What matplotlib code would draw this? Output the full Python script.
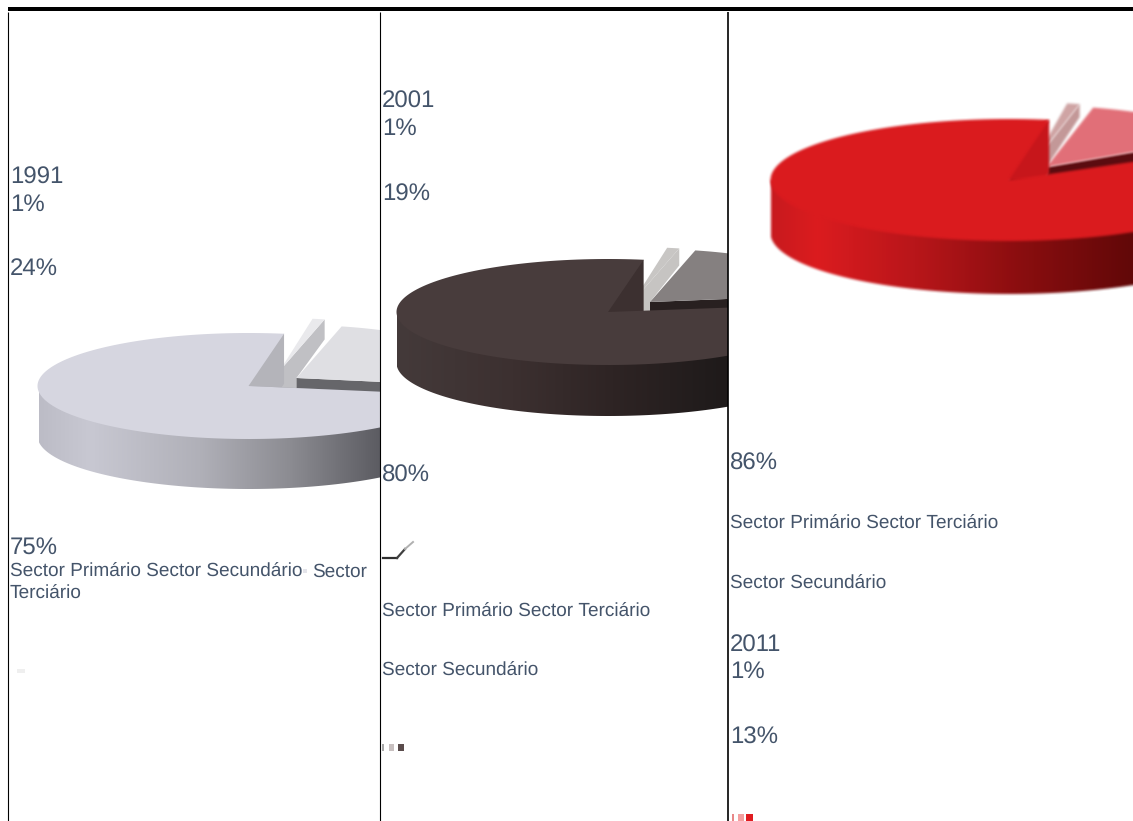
import numpy as np
import matplotlib
matplotlib.use("Agg")
import matplotlib.pyplot as plt
from matplotlib.patches import Polygon, Rectangle

plt.rcParams['font.family'] = ['Liberation Sans', 'DejaVu Sans']
plt.rcParams['text.hinting'] = 'no_hinting'
plt.rcParams['text.hinting_factor'] = 1

# Employment shares per census year: primary, secondary, tertiary
years = ['1991', '2001', '2011']
primario = [1, 1, 1]
secundario = [24, 19, 13]
terciario = [75, 80, 86]

W, H = 1133, 821
TEXT = '#44546a'
START = 9.7      # clockwise from the top of the ellipse, in degrees
PANELS = [(8, 380), (380, 728), (728, W + 20)]

# Projection and colouring of each disc; sx narrows the two lifted sectors
DISCS = [
    dict(c=(248.5, 386), rx=211, ry=53, h=50, off1=(31, -15), off2=(48, -8), thin_h=20, sx=0.93,
         face='#d6d6e0', wall='#b4b4ba', thin_f='#e9e9ec', thin_w='#c0c0c4',
         sec_f='#dfdfe3', sec_w='#66666a',
         rim=[(39, '#bcbcc6'), (90, '#c8c8d2'), (200, '#b0b0b8'), (290, '#8c8c92'), (380, '#5c5c62')]),
    dict(c=(608, 312), rx=211.5, ry=53, h=51, off1=(26, -12), off2=(42, -10), thin_h=17, sx=0.93,
         face='#483c3c', wall='#3c3030', thin_f='#c8c6c4', thin_w='#c6c4c2',
         sec_f='#858080', sec_w='#282020',
         rim=[(397, '#443a3a'), (513, '#3c3030'), (613, '#2e2424'), (728, '#1e1a1a')]),
    dict(c=(1009, 180), rx=238.5, ry=61, h=53, off1=(24, -16.5), off2=(37.5, -13), thin_h=13, sx=0.85,
         face='#da1b1f', wall='#c8161c', thin_f='#cfa4a4', thin_w='#c49898',
         sec_f='#e27078', sec_w='#5c0c10',
         rim=[(771, '#c81a1e'), (817, '#dc1c20'), (917, '#b8161a'), (1017, '#8c0e10'), (W, '#620808')]),
]


def make_soften(reaches_right, pad=6, passes=2, size=3):
    # Alpha-weighted box blur for the last disc. A shape cut by the right side of
    # the canvas continues past it, so that side is padded with its own pixels.
    def soften(image, dpi):
        img = np.pad(image, ((pad, pad), (pad, pad), (0, 0)))
        if reaches_right:
            img[:, -pad:] = img[:, -pad - 1:-pad]
        premult = img.copy()
        premult[..., :3] *= premult[..., 3:]
        k = np.ones(size) / size
        for _ in range(passes):
            for axis in (0, 1):
                premult = np.apply_along_axis(np.convolve, axis, premult, k, mode='same')
        a = np.clip(premult[..., 3:], 1e-4, 1)
        premult[..., :3] = np.clip(premult[..., :3] / a, 0, 1)
        return premult, -pad, -pad
    return soften


def point(d, theta, dx=0, dy=0, sx=1.0):
    t = np.radians(theta)
    return (d['c'][0] + dx + sx * d['rx'] * np.sin(t), d['c'][1] + dy - d['ry'] * np.cos(t))


def arc(d, t0, t1, dx=0, dy=0, sx=1.0):
    return [point(d, t, dx, dy, sx) for t in np.linspace(t0, t1, 160)]


def draw_disc(ax, d, shares, panel):
    clip = Rectangle((panel[0], 0), panel[1] - panel[0], H, transform=ax.transData)
    blurred = panel[0] == 728

    def add(pts, color, z):
        p = Polygon(pts, closed=True, fc=color, ec='none', zorder=z)
        ax.add_patch(p)
        p.set_clip_path(clip)
        if blurred:
            p.set_agg_filter(make_soften(max(x for x, _ in pts) >= W))
        return p

    a1 = START + shares[0] * 3.6
    a2 = a1 + shares[1] * 3.6
    a3 = a2 + shares[2] * 3.6
    cx, cy = d['c']
    h = d['h']
    sx = d['sx']
    tip1 = (cx + d['off1'][0], cy + d['off1'][1])
    tip2 = (cx + d['off2'][0], cy + d['off2'][1])

    # Thin primary sector, lifted out of the disc; its wall runs down to the next sector
    end = point(d, a1, *d['off1'], sx)
    add([tip1, end, (end[0], end[1] + d['thin_h']), tip2, (tip2[0], cy + h), (tip1[0], cy + h)],
        d['thin_w'], 2)
    add([tip1] + arc(d, START, a1, *d['off1'], sx), d['thin_f'], 2.1)

    # Secondary sector
    end = point(d, a2, *d['off2'], sx)
    add([tip2, end, (end[0], end[1] + h), (tip2[0], tip2[1] + h)], d['sec_w'], 2.2)
    add([tip2] + arc(d, a1, a2, *d['off2'], sx), d['sec_f'], 2.3)

    # Tertiary sector: cut wall (tucked under the top face), shaded rim, top face
    e0 = point(d, a3)
    add([(cx - 8, cy + 2), (e0[0] - 8, e0[1] + 3), e0, (e0[0], e0[1] + h), (cx, cy + h), (cx, cy)],
        d['wall'], 2.4)

    front_start = max(a2, 90)
    right = point(d, front_start)
    rim_pts = [(cx - d['rx'], cy), (cx, cy), right] + arc(d, front_start, 270, 0, h)
    rim_clip = Polygon(rim_pts, closed=True, transform=ax.transData)
    xs = [x for x, _ in d['rim']]
    rgb = np.array([matplotlib.colors.to_rgb(c) for _, c in d['rim']])
    grid = np.arange(xs[0], xs[-1] + 1)
    strip = np.stack([np.interp(grid, xs, rgb[:, i]) for i in range(3)], axis=-1)[None, ...]
    im = ax.imshow(strip, extent=(xs[0], xs[-1], cy + h + d['ry'] + 2, cy - 1),
                   aspect='auto', zorder=2.5, interpolation='bilinear')
    im.set_clip_path(rim_clip)
    if blurred:
        im.set_agg_filter(make_soften(True))

    add([(cx, cy)] + arc(d, a2, a3), d['face'], 2.6)


fig = plt.figure(figsize=(W / 100, H / 100), dpi=100, facecolor='white')
ax = fig.add_axes([0, 0, 1, 1])
ax.set_xlim(0, W)
ax.set_ylim(H, 0)
ax.axis('off')

for i, d in enumerate(DISCS):
    draw_disc(ax, d, (primario[i], secundario[i], terciario[i]), PANELS[i])

# Table rules
ax.add_patch(Rectangle((8, 7), W - 8, 4, fc='black', ec='none', zorder=5))
for x, lw in [(8, 0.8), (380, 0.8), (728, 1.2)]:
    ax.plot([x, x], [12.5, H], color='black', lw=lw, zorder=5, solid_capstyle='butt')

BIG, SMALL = 17, 13.4


def big(x, y, s):
    ax.text(x, y, s, fontsize=BIG, color=TEXT, va='center', ha='left', zorder=6)


def small(x, y, s):
    ax.text(x, y, s, fontsize=SMALL, color=TEXT, va='center', ha='left', zorder=6)


# 1991 column
big(10, 178, years[0])
big(10, 204.6, f'{primario[0]}%')
big(10, 269, f'{secundario[0]}%')
big(10, 548, f'{terciario[0]}%')
small(10, 571.5, 'Sector Primário Sector Secundário')
small(312, 571.5, 'Sector')
small(10, 593.5, 'Terciário')
ax.add_patch(Rectangle((303, 569), 4, 4, fc='#e4e4ea', ec='none'))
ax.add_patch(Rectangle((17, 669), 8, 4, fc='#efefef', ec='none'))

# 2001 column
big(382, 102, years[1])
big(382, 129, f'{primario[1]}%')
big(382, 195, f'{secundario[1]}%')
big(382, 476, f'{terciario[1]}%')
ax.plot([383, 397], [558, 558], color='#303030', lw=1.6, zorder=5)
ax.plot([397, 405], [558, 549], color='#404040', lw=1.6, zorder=5)
ax.plot([405, 413], [549, 542], color='#b0b0b0', lw=1.4, zorder=5)
small(382, 611.5, 'Sector Primário Sector Terciário')
small(382, 670.5, 'Sector Secundário')
ax.add_patch(Rectangle((382, 744), 2, 7, fc='#a8a8a8', ec='none'))
ax.add_patch(Rectangle((389, 744), 5, 7, fc='#c8c0c0', ec='none'))
ax.add_patch(Rectangle((398, 744), 6, 7, fc='#5a4c4c', ec='none'))

# 2011 column
big(730, 464, f'{terciario[2]}%')
small(730, 523.5, 'Sector Primário Sector Terciário')
small(730, 583.5, 'Sector Secundário')
big(730, 646, years[2])
big(730, 672, f'{primario[2]}%')
big(730, 738, f'{secundario[2]}%')
ax.add_patch(Rectangle((732, 814), 2, 7, fc='#e88888', ec='none'))
ax.add_patch(Rectangle((738, 814), 6, 7, fc='#f4a0a0', ec='none'))
ax.add_patch(Rectangle((746, 814), 7, 7, fc='#e01c20', ec='none'))

fig.savefig('out.png', dpi=100)
